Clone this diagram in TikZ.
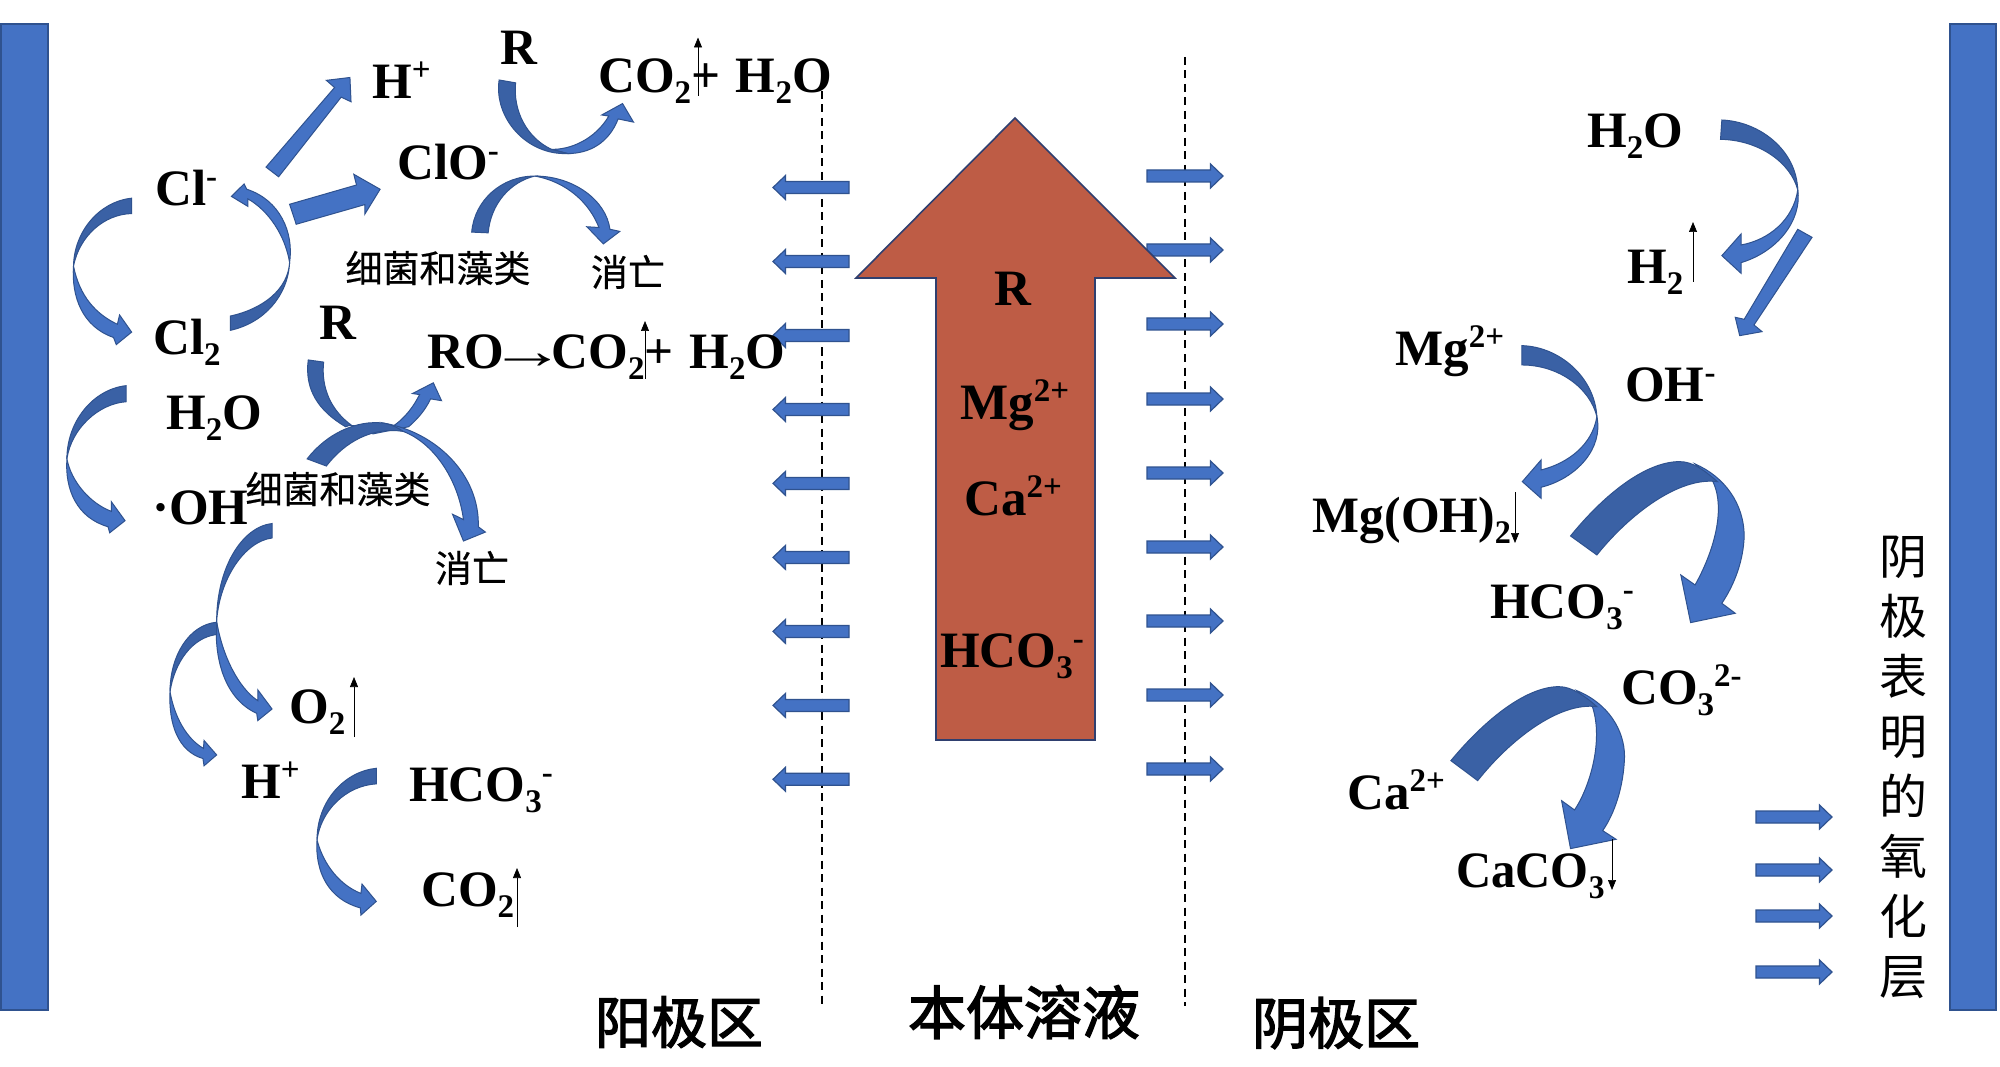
\documentclass[tikz,border=0pt]{standalone}
\usepackage{fontspec}
\usepackage{graphicx}
\usetikzlibrary{arrows.meta}
\setmainfont{Liberation Serif}
\newfontfamily\cjkfont{Noto Sans CJK SC}
\newfontfamily\cjkmid[FakeBold=0.5]{Noto Sans CJK SC}
\newfontfamily\cjkheavy[FakeBold=2.4]{Noto Sans CJK SC}
\newcommand\chemsize{\fontsize{51}{60}\selectfont\bfseries}
\newcommand\sbb[1]{\raisebox{-11pt}{\fontsize{33}{33}\selectfont #1}}
\newcommand\spp[1]{\raisebox{18pt}{\fontsize{33}{33}\selectfont #1}}
\newcommand\longarr{\makebox[48pt]{\scalebox{1.5}[1]{→}}}
\definecolor{bluefill}{HTML}{4472C4}
\definecolor{blueedge}{HTML}{2F528F}
\definecolor{bluedark}{HTML}{3A61A5}
\definecolor{brick}{HTML}{BE5C45}
\definecolor{brickedge}{HTML}{2F3F6F}
\tikzset{
  chem/.style={anchor=base west,inner sep=0pt,font=\chemsize,yshift=-1pt},
  cjksmall/.style={inner sep=0pt,font=\cjkmid\fontsize{37}{40}\selectfont},
  cjkbig/.style={inner sep=0pt,font=\cjkheavy\fontsize{56}{60}\selectfont},
  lightpart/.style={fill=bluefill,draw=blueedge,line width=1pt,line join=miter},
  darkpart/.style={fill=bluedark,draw=blueedge,line width=1pt,line join=miter},
  barbox/.style={fill=bluefill,draw=blueedge,line width=1.2pt},
  gas/.style={-{Triangle[length=10pt,width=8pt]},line width=.7pt,black},
  sep/.style={line width=1.1pt,dash pattern=on 8pt off 5.5pt,black},
  zA/.style={x=.5485pt,y=-.3571pt},
  zB/.style={x=.5485pt,y=-.3616pt,yshift=-500pt},
  zC/.style={x=.4464pt,y=-.3333pt,xshift=1300pt,yshift=-80pt},
  zD/.style={x=.4464pt,y=-.3333pt,xshift=1300pt,yshift=-560pt},
}
\newcommand\blockarr[3]{%
  \pgfmathsetmacro\hd{#3>#1?12.5:-12.5}%
  \draw[lightpart,line width=1.2pt] (#1,#2-6) -- ({#3-\hd},#2-6) -- ({#3-\hd},#2-12) -- (#3,#2) -- ({#3-\hd},#2+12) -- ({#3-\hd},#2+6) -- (#1,#2+6) -- cycle;}
\newcommand\gasarr[4]{%
  \coordinate (#1a) at (#2,#3); \coordinate (#1b) at (#2,#4);
  \draw[gas] (#1a) -- (#1b);}
\begin{document}
\begin{tikzpicture}[x=1pt,y=-1pt]
\useasboundingbox (0,0) rectangle (2000,1067);
\fill[white] (0,0) rectangle (2000,1067);
% bars
\draw[barbox] (1,24) rectangle (48,1010);
\draw[barbox] (1950,24) rectangle (1996,1010);
% separators
\coordinate (sepLa) at (822,91); \coordinate (sepLb) at (822,1006);
\coordinate (sepRa) at (1185,57); \coordinate (sepRb) at (1185,1006);
\draw[sep] (sepLa) -- (sepLb);
\draw[sep] (sepRa) -- (sepRb);
% straight arrows
\foreach \yy in {187.5,261.5,335.5,409.5,483.4,557.4,631.4,705.4,779.3} {\blockarr{849}{\yy}{773}}
\foreach \yy in {176,250,324,399,473,547,621,695,769} {\blockarr{1147}{\yy}{1223}}
\foreach \yy in {817,870,916,972} {\blockarr{1756}{\yy}{1832}}
% big arrow
\draw[fill=brick,draw=brickedge,line width=1.6pt] (1015,118) -- (1175,278) -- (1095,278) -- (1095,740) -- (936,740) -- (936,278) -- (856,278) -- cycle;
% left curved arrows
\begin{scope}[zA]
\draw[lightpart] (485,468) -- (508,495) -- (622,272) -- (640,285) -- (638,217) -- (595,225) -- (610,245) -- cycle;
\draw[lightpart] (528,572) -- (540,628) -- (665,573) -- (665,600) -- (693,530) -- (645,488) -- (650,518) -- cycle;
\draw[lightpart] (134,745) .. controls (130,830) and (150,915) .. (207,945) -- (212,965) -- (240,930) -- (218,882) -- (214,908) .. controls (175,880) and (145,830) .. (134,745) -- cycle;
\draw[darkpart] (240,555) .. controls (180,565) and (135,650) .. (134,745) .. controls (145,660) and (190,600) .. (240,598) -- cycle;
\draw[lightpart] (528,735) .. controls (536,650) and (510,560) .. (450,530) -- (445,515) -- (422,550) -- (452,578) -- (452,557) .. controls (490,590) and (520,660) .. (528,735) -- cycle;
\draw[darkpart] (420,885) .. controls (480,865) and (525,810) .. (528,735) .. controls (525,830) and (480,905) .. (420,925) -- cycle;
\draw[lightpart] (122,1285) .. controls (118,1370) and (140,1450) .. (197,1475) -- (200,1492) -- (228,1458) -- (203,1405) -- (203,1432) .. controls (165,1410) and (130,1350) .. (122,1285) -- cycle;
\draw[darkpart] (230,1080) .. controls (170,1090) and (122,1180) .. (122,1285) .. controls (130,1200) and (180,1130) .. (230,1125) -- cycle;
\draw[lightpart] (1005,418) .. controls (1040,420) and (1085,390) .. (1110,325) -- (1097,322) -- (1135,290) -- (1155,342) -- (1127,333) .. controls (1110,400) and (1075,430) .. (1035,430) -- cycle;
\draw[darkpart] (910,224) -- (940,232) .. controls (935,310) and (960,385) .. (1005,418) -- (1035,430) .. controls (960,435) and (900,330) .. (910,224) -- cycle;
\draw[lightpart] (975,493) .. controls (1045,493) and (1105,560) .. (1112,642) -- (1130,648) -- (1100,683) -- (1070,635) -- (1092,637) .. controls (1075,570) and (1035,510) .. (975,493) -- cycle;
\draw[darkpart] (860,650) .. controls (865,560) and (915,493) .. (975,493) .. controls (930,510) and (895,570) .. (890,652) -- cycle;
\draw[lightpart] (640,1192) -- (715,1195) .. controls (740,1170) and (755,1135) .. (765,1105) -- (752,1102) -- (790,1072) -- (805,1122) -- (785,1117) .. controls (775,1150) and (760,1175) .. (745,1195) -- (680,1215) -- cycle;
\draw[darkpart] (562,1008) -- (590,1014) .. controls (585,1090) and (605,1150) .. (640,1190) -- (630,1195) .. controls (580,1150) and (555,1090) .. (562,1008) -- cycle;
\draw[lightpart] (700,1185) .. controls (795,1210) and (875,1330) .. (872,1475) -- (885,1490) -- (845,1515) -- (825,1440) -- (845,1455) .. controls (835,1340) and (790,1240) .. (735,1208) -- cycle;
\draw[darkpart] (560,1285) .. controls (595,1215) and (650,1175) .. (700,1185) .. controls (715,1190) and (725,1197) .. (735,1208) .. controls (680,1195) and (630,1235) .. (595,1305) -- cycle;
\end{scope}
\begin{scope}[zB]
\draw[lightpart] (395,335) .. controls (390,440) and (410,550) .. (468,590) -- (470,610) -- (496,578) -- (470,525) -- (470,555) .. controls (435,520) and (405,430) .. (395,335) -- cycle;
\draw[darkpart] (496,65) .. controls (440,75) and (395,190) .. (395,335) .. controls (400,220) and (445,115) .. (496,105) -- cycle;
\draw[lightpart] (310,530) .. controls (307,620) and (325,695) .. (370,715) -- (372,735) -- (395,705) -- (372,665) -- (371,687) .. controls (340,660) and (318,600) .. (310,530) -- cycle;
\draw[darkpart] (395,338) .. controls (345,345) and (310,430) .. (310,530) .. controls (318,450) and (350,380) .. (395,372) -- cycle;
\draw[lightpart] (578,940) .. controls (574,1030) and (600,1105) .. (657,1128) -- (658,1148) -- (686,1110) -- (660,1062) -- (658,1088) .. controls (620,1065) and (590,1010) .. (578,940) -- cycle;
\draw[darkpart] (686,742) .. controls (630,750) and (578,830) .. (578,940) .. controls (585,860) and (630,790) .. (686,785) -- cycle;
\end{scope}
% right curved arrows
\begin{scope}[zC]
\draw[lightpart] (1115,330) .. controls (1125,420) and (1070,515) .. (988,548) -- (988,580) -- (945,527) -- (988,462) -- (988,495) .. controls (1050,480) and (1105,420) .. (1115,330) -- cycle;
\draw[darkpart] (945,120) .. controls (1030,125) and (1112,210) .. (1115,330) .. controls (1100,250) and (1030,180) .. (942,178) -- cycle;
\draw[lightpart] (1115,448) -- (1147,472) -- (1017,735) -- (1035,755) -- (985,767) -- (975,712) -- (995,718) -- cycle;
\draw[lightpart] (665,1010) .. controls (680,1105) and (620,1195) .. (540,1222) -- (540,1255) -- (498,1205) -- (540,1140) -- (540,1170) .. controls (600,1150) and (655,1095) .. (665,1010) -- cycle;
\draw[darkpart] (497,797) .. controls (580,800) and (660,890) .. (665,1010) .. controls (650,925) and (580,855) .. (497,855) -- cycle;
\draw[lightpart] (885,1152) .. controls (950,1190) and (995,1270) .. (995,1370) .. controls (993,1440) and (975,1510) .. (945,1570) -- (975,1600) -- (875,1628) -- (853,1485) -- (885,1515) .. controls (925,1420) and (955,1290) .. (925,1205) -- cycle;
\draw[darkpart] (606,1368) .. controls (690,1230) and (780,1145) .. (850,1145) .. controls (880,1145) and (905,1170) .. (935,1205) .. controls (850,1190) and (740,1300) .. (665,1425) -- cycle;
\end{scope}
\begin{scope}[zD]
\draw[lightpart] (620,392) .. controls (690,430) and (727,510) .. (727,590) .. controls (725,680) and (705,760) .. (678,812) -- (708,838) -- (606,866) -- (586,722) -- (615,750) .. controls (650,680) and (680,540) .. (655,440) -- cycle;
\draw[darkpart] (338,602) .. controls (420,470) and (510,380) .. (580,380) .. controls (610,380) and (640,410) .. (665,440) .. controls (580,425) and (470,540) .. (398,662) -- cycle;
\end{scope}
% chemical labels
\node[chem] (hp) at (372,98) {H\spp{+}};
\node[chem] (r1) at (500,63.5) {R};
\node[chem] (co1) at (598,92) {CO\sbb{2}+\hspace{3pt} H\sbb{2}O};
\node[chem] (clo) at (397,178.5) {ClO\spp{-}};
\node[chem] (clm) at (155,205) {Cl\spp{-}};
\node[chem] (cl2) at (153,353) {Cl\sbb{2}};
\node[chem] (r2) at (319,339) {R};
\node[chem] (ro) at (427,367) {RO\longarr CO\sbb{2}+\hspace{3pt} H\sbb{2}O};
\node[chem] (h2o) at (166,428) {H\sbb{2}O};
\node[chem] (oh) at (152,523) {·OH};
\node[chem] (o2) at (289,722) {O\sbb{2}};
\node[chem] (hp2) at (241,797) {H\spp{+}};
\node[chem] (hco) at (409,800) {HCO\sbb{3}\spp{-}};
\node[chem] (co2) at (421,905) {CO\sbb{2}};
\node[chem] (cr) at (994,305) {R};
\node[chem] (cmg) at (960,418) {Mg\spp{2+}};
\node[chem] (cca) at (964,514) {Ca\spp{2+}};
\node[chem] (chco) at (940,666) {HCO\sbb{3}\spp{-}};
\node[chem] (rh2o) at (1587,147) {H\sbb{2}O};
\node[chem] (rh2) at (1627,283) {H\sbb{2}};
\node[chem] (rmg) at (1395,364) {Mg\spp{2+}};
\node[chem] (roh) at (1625,400) {OH\spp{-}};
\node[chem] (rmgoh) at (1312.5,531) {\scalebox{.975}[1]{Mg(OH)\sbb{2}}};
\node[chem] (rhco) at (1490,617) {HCO\sbb{3}\spp{-}};
\node[chem] (rco3) at (1621,703) {CO\sbb{3}\spp{2-}};
\node[chem] (rca) at (1347,808) {Ca\spp{2+}};
\node[chem] (rcaco) at (1456,886) {\scalebox{.955}[1]{CaCO\sbb{3}}};
% gas arrows
\gasarr{ga}{698}{96}{37.5}
\gasarr{gb}{645}{379}{321}
\gasarr{gc}{354}{737}{677}
\gasarr{gd}{517}{927}{868}
\gasarr{ge}{1693}{282}{222}
\gasarr{gf}{1515}{492}{543}
\gasarr{gg}{1612}{839}{890}
% chinese labels
\node[cjksmall] (bac1) at (438,268) {细菌和藻类};
\node[cjksmall] (die1) at (628,272) {消亡};
\node[cjksmall] (bac2) at (338,489) {细菌和藻类};
\node[cjksmall] (die2) at (472,568) {消亡};
\node[cjkbig] (zone1) at (679,1022) {阳极区};
\node[cjkbig] (zone2) at (1024,1012) {\fontsize{58}{60}\selectfont 本体溶液};
\node[cjkbig] (zone3) at (1336,1023) {阴极区};
\node[inner sep=0pt,align=center,font=\cjkfont\fontsize{48}{60}\selectfont] (layer) at (1903,767) {阴\\极\\表\\明\\的\\氧\\化\\层};
\end{tikzpicture}
\end{document}
